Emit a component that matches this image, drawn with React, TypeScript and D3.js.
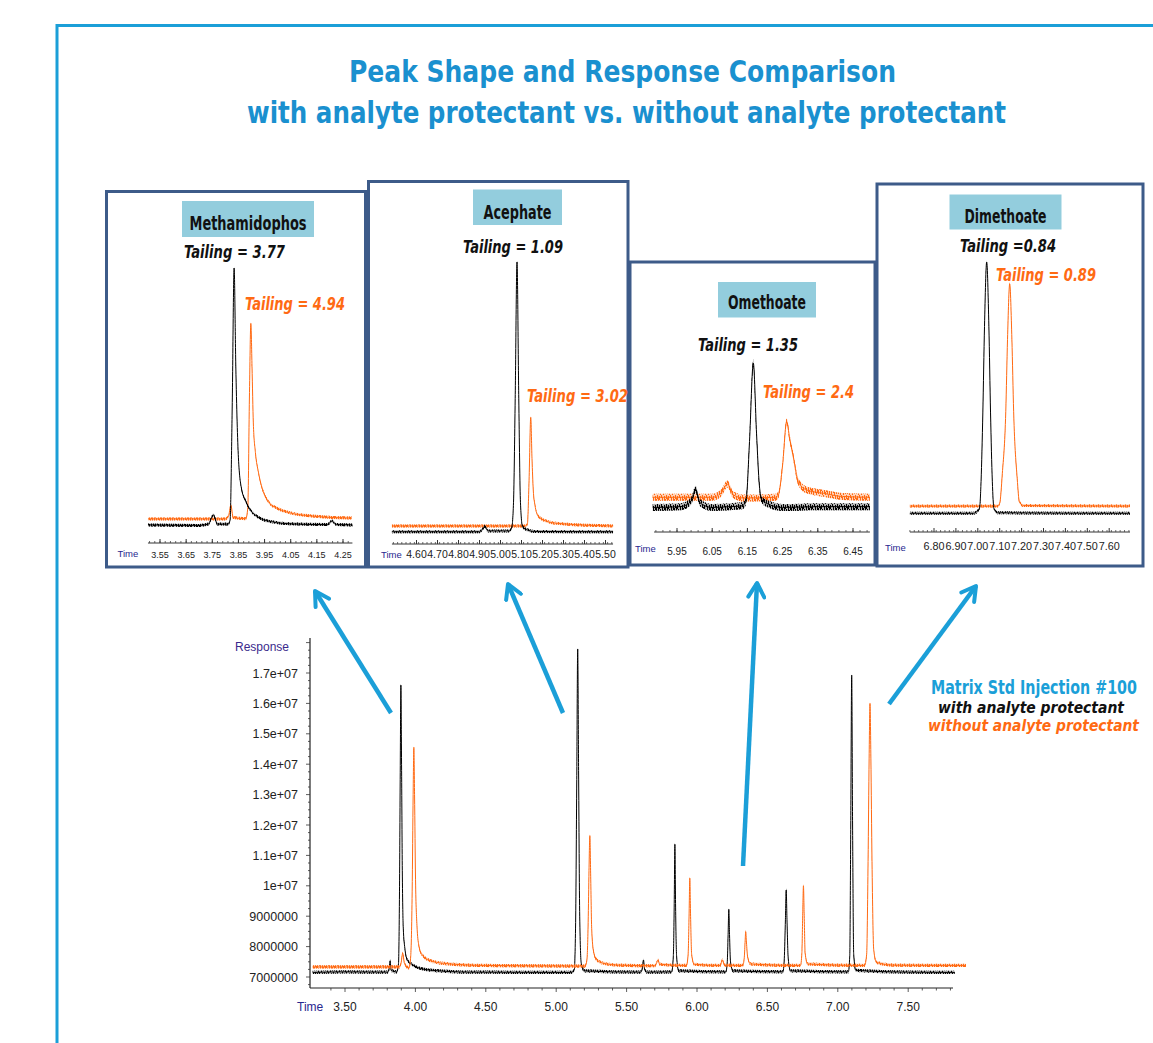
import React, { useLayoutEffect, useRef, useState } from 'react';
import * as d3 from 'd3';

type P = [number, number];

const W = 1153;
const H = 1043;
const ORANGE = '#ff6a13';
const BLUE = '#1b9fd8';
const TITLE_BLUE = '#1a90cf';
const BOX_BORDER = '#3d5b89';
const LABEL_BG = '#93cddd';
const NAVY = '#27278f';
const COND = "'Liberation Sans Narrow', 'DejaVu Sans Condensed', 'Roboto Condensed', 'Liberation Sans', Arial, sans-serif";
const SANS = "'Liberation Sans', Arial, sans-serif";

// ---------- Main chromatogram (time in min, response in counts) ----------
const mainWith: P[] = [
  [3.27, 7.15e6], [3.5, 7.17e6], [3.8, 7.16e6], [3.812, 7.22e6], [3.82, 7.53e6], [3.828, 7.22e6],
  [3.868, 7.17e6], [3.88, 7.45e6], [3.887, 9.8e6], [3.892, 1.35e7], [3.897, 1.66e7], [3.902, 1.38e7],
  [3.907, 1.05e7], [3.914, 8.6e6], [3.925, 7.95e6], [3.943, 7.56e6], [3.975, 7.42e6], [4.011, 7.32e6],
  [4.118, 7.22e6], [4.4, 7.16e6], [5.1, 7.15e6], [5.128, 7.22e6], [5.138, 8.8e6], [5.146, 1.35e7],
  [5.1527, 1.779e7], [5.159, 1.38e7], [5.167, 9.0e6], [5.178, 7.45e6], [5.2, 7.2e6], [5.6, 7.16e6],
  [5.612, 7.3e6], [5.62, 7.56e6], [5.628, 7.25e6], [5.645, 7.16e6], [5.82, 7.17e6], [5.832, 7.7e6],
  [5.838, 9.3e6], [5.843, 1.1365e7], [5.848, 9.3e6], [5.855, 7.7e6], [5.87, 7.2e6], [6.205, 7.17e6],
  [6.215, 7.5e6], [6.221, 8.4e6], [6.226, 9.227e6], [6.231, 8.4e6], [6.238, 7.5e6], [6.255, 7.2e6],
  [6.61, 7.17e6], [6.62, 7.6e6], [6.628, 8.9e6], [6.6335, 9.86e6], [6.639, 8.9e6], [6.648, 7.6e6],
  [6.665, 7.2e6], [7.075, 7.17e6], [7.085, 7.7e6], [7.092, 1.2e7], [7.0987, 1.693e7], [7.105, 1.2e7],
  [7.113, 7.75e6], [7.128, 7.22e6], [7.5, 7.16e6], [7.83, 7.15e6],
];

const mainWithout: P[] = [
  [3.27, 7.33e6], [3.6, 7.33e6], [3.885, 7.33e6], [3.898, 7.45e6], [3.91, 7.78e6], [3.922, 7.45e6],
  [3.955, 7.3e6], [3.967, 7.7e6], [3.977, 9.8e6], [3.984, 1.3e7], [3.989, 1.4556e7], [3.994, 1.3e7],
  [4.001, 1.02e7], [4.011, 8.7e6], [4.024, 8.05e6], [4.045, 7.75e6], [4.1, 7.55e6], [4.2, 7.45e6],
  [4.5, 7.38e6], [5.205, 7.36e6], [5.218, 7.55e6], [5.227, 8.8e6], [5.233, 1.05e7], [5.239, 1.165e7],
  [5.245, 1.03e7], [5.252, 8.6e6], [5.265, 7.85e6], [5.285, 7.58e6], [5.33, 7.46e6], [5.45, 7.39e6],
  [5.7, 7.37e6], [5.712, 7.45e6], [5.723, 7.56e6], [5.735, 7.42e6], [5.925, 7.38e6], [5.937, 7.75e6],
  [5.944, 9.1e6], [5.949, 1.025e7], [5.954, 9.1e6], [5.962, 7.75e6], [5.98, 7.42e6], [6.165, 7.38e6],
  [6.18, 7.56e6], [6.195, 7.39e6], [6.325, 7.38e6], [6.336, 7.65e6], [6.342, 8.2e6], [6.346, 8.49e6],
  [6.351, 8.15e6], [6.36, 7.65e6], [6.38, 7.43e6], [6.735, 7.38e6], [6.745, 7.8e6], [6.751, 9.1e6],
  [6.756, 1.0e7], [6.761, 9.1e6], [6.768, 7.8e6], [6.785, 7.43e6], [7.19, 7.38e6], [7.205, 7.75e6],
  [7.215, 1.08e7], [7.2225, 1.42e7], [7.2287, 1.6e7], [7.235, 1.42e7], [7.243, 1.08e7], [7.255, 7.9e6],
  [7.275, 7.48e6], [7.4, 7.39e6], [7.91, 7.38e6],
];

const mainYTicks = [7e6, 8e6, 9e6, 1e7, 1.1e7, 1.2e7, 1.3e7, 1.4e7, 1.5e7, 1.6e7, 1.7e7];
const mainYTickLabels = ['7000000', '8000000', '9000000', '1e+07', '1.1e+07', '1.2e+07', '1.3e+07', '1.4e+07', '1.5e+07', '1.6e+07', '1.7e+07'];
const mainXTicks = [3.5, 4.0, 4.5, 5.0, 5.5, 6.0, 6.5, 7.0, 7.5];
const mainXTickLabels = ['3.50', '4.00', '4.50', '5.00', '5.50', '6.00', '6.50', '7.00', '7.50'];

// ---------- Insets (time in min, relative response %) ----------
const insetNames = ['Methamidophos', 'Acephate', 'Omethoate', 'Dimethoate'];
const tailingWith = ['Tailing = 3.77', 'Tailing = 1.09', 'Tailing = 1.35', 'Tailing =0.84'];
const tailingWithout = ['Tailing = 4.94', 'Tailing = 3.02', 'Tailing = 2.4', 'Tailing = 0.89'];

const insetTicks1 = [3.55, 3.65, 3.75, 3.85, 3.95, 4.05, 4.15, 4.25];
const insetTicks2 = [4.6, 4.7, 4.8, 4.9, 5.0, 5.1, 5.2, 5.3, 5.4, 5.5];
const insetTicks3 = [5.95, 6.05, 6.15, 6.25, 6.35, 6.45];
const insetTicks4 = [6.8, 6.9, 7.0, 7.1, 7.2, 7.3, 7.4, 7.5, 7.6];

const methWith: P[] = [
  [3.504, 1.2], [3.7, 1.0], [3.735, 1.5], [3.754, 5], [3.77, 1.5], [3.81, 1.5], [3.818, 3],
  [3.826, 45], [3.8335, 100], [3.84, 62], [3.85, 27], [3.862, 15], [3.876, 10.8], [3.895, 7],
  [3.914, 5], [3.945, 3.2], [3.978, 2.4], [4.05, 1.6], [4.19, 1.3], [4.208, 2.7], [4.225, 1.3], [4.286, 1.2],
];
const methWithout: P[] = [
  [3.504, 3.5], [3.8, 3.5], [3.812, 4.5], [3.821, 8.8], [3.83, 4], [3.878, 3.6], [3.886, 8],
  [3.892, 50], [3.8975, 78.7], [3.902, 62], [3.907, 40.4], [3.915, 29], [3.927, 21.2], [3.945, 14],
  [3.965, 10.1], [4.0, 7.5], [4.029, 6.3], [4.131, 4.6], [4.284, 3.8],
];
const acepWith: P[] = [
  [4.483, 1.2], [4.9, 1.2], [4.915, 2.2], [4.926, 3.2], [4.94, 1.5], [5.04, 1.5], [5.053, 2.5],
  [5.062, 12], [5.07, 50], [5.0786, 100], [5.087, 50], [5.095, 12], [5.105, 3], [5.13, 1.8],
  [5.16, 1.3], [5.536, 1.2],
];
const acepWithout: P[] = [
  [4.483, 3.3], [5.12, 3.3], [5.128, 4], [5.136, 20], [5.144, 43.1], [5.15, 28], [5.156, 16.5],
  [5.164, 11], [5.172, 8.1], [5.188, 6.3], [5.204, 5.5], [5.268, 4.3], [5.536, 3.3],
];
const ometWith: P[] = [
  [5.881, 8], [5.96, 8.5], [5.99, 12], [6.003, 19.6], [6.015, 11], [6.05, 8], [6.1, 8.5],
  [6.135, 9], [6.146, 12], [6.156, 50], [6.1668, 100], [6.176, 55], [6.184, 22], [6.1906, 13],
  [6.21, 10], [6.25, 8], [6.35, 8.5], [6.498, 8.5],
];
const ometWithout: P[] = [
  [5.881, 14.5], [6.05, 14.5], [6.075, 17], [6.093, 22.9], [6.11, 16], [6.14, 14], [6.23, 14.5],
  [6.238, 16], [6.25, 35], [6.2616, 62.6], [6.27, 52], [6.2804, 40.3], [6.2946, 24.4],
  [6.3185, 19.1], [6.3656, 17], [6.42, 15], [6.498, 14.5],
];
const dimeWith: P[] = [
  [6.69, 2.6], [6.98, 2.6], [7.0076, 4.5], [7.0149, 15], [7.023, 41.5], [7.0306, 75], [7.0406, 100],
  [7.0506, 75], [7.0582, 41.5], [7.0663, 15], [7.0736, 4.5], [7.09, 2.8], [7.695, 2.6],
];
const dimeWithout: P[] = [
  [6.69, 5.4], [7.09, 5.4], [7.1, 6.5], [7.112, 18], [7.1277, 42], [7.1357, 70], [7.1457, 91.5],
  [7.1557, 70], [7.1637, 42], [7.18, 16], [7.19, 7], [7.21, 5.6], [7.695, 5.4],
];

const insetWith = [methWith, acepWith, ometWith, dimeWith];
const insetWithout = [methWithout, acepWithout, ometWithout, dimeWithout];
const insetTicks = [insetTicks1, insetTicks2, insetTicks3, insetTicks4];

// ---------- Layout (pixel positions only) ----------
const insetLayout = [
  {
    box: [106.5, 191.5, 365.5, 567], t: [3.55, 4.25], px: [160, 343], ruler: [3.504, 4.286], rulerY: 543,
    y0: 528, y100: 268, labBase: 558, tickFont: 9, timeX: 117.5, timeBase: 557,
    labelBox: [182, 201, 314, 237], nameBase: 229.5, nameLen: 117,
    w: [184, 257.5, 101], wo: [245, 310, 100], noise: 1.5,
  },
  {
    box: [368.5, 181.5, 628, 567], t: [4.6, 5.5], px: [416.5, 605.5], ruler: [4.483, 5.536], rulerY: 544,
    y0: 535, y100: 262, labBase: 558, tickFont: 10.5, timeX: 381, timeBase: 558,
    labelBox: [473, 189.5, 562, 225], nameBase: 218.5, nameLen: 68,
    w: [463, 253, 100], wo: [527, 402, 101], noise: 1.5,
  },
  {
    box: [630, 262, 875, 565], t: [5.95, 6.45], px: [677, 853], ruler: [5.885, 6.498], rulerY: 532,
    y0: 520, y100: 363, labBase: 555, tickFont: 10, timeX: 635, timeBase: 552,
    labelBox: [718, 282, 816, 317.5], nameBase: 308.5, nameLen: 78,
    w: [698, 351, 100], wo: [763, 398, 91], noise: 3.5,
  },
  {
    box: [877, 184, 1143, 566], t: [6.8, 7.6], px: [934, 1109.2], ruler: [6.69, 7.695], rulerY: 532,
    y0: 520, y100: 262, labBase: 550, tickFont: 10.8, timeX: 885, timeBase: 551,
    labelBox: [949.5, 194.5, 1061.5, 229.5], nameBase: 222.5, nameLen: 82,
    w: [960, 252, 96], wo: [996, 281, 100], noise: 1.5,
  },
];

const arrows = [
  [391, 713, 315, 591],
  [563, 713, 508, 584],
  [743, 866, 757, 583],
  [889, 704, 976, 586],
];

function FitText({ x, y, len, children, ...props }: any) {
  const ref = useRef<SVGTextElement>(null);
  const [sx, setSx] = useState(1);
  useLayoutEffect(() => {
    const el = ref.current;
    if (el) {
      const n = el.getComputedTextLength();
      if (n > 0) setSx(len / n);
    }
  }, [len]);
  return (
    <g transform={`translate(${x},${y}) scale(${sx},1)`}>
      <text ref={ref} x={0} y={0} {...props}>
        {children}
      </text>
    </g>
  );
}

function Trace({ pts, xs, ys, color, noise, sw, pat }: { pts: P[]; xs: any; ys: any; color: string; noise: number; sw: number; pat: string }) {
  const line = d3.line<P>().x((d) => xs(d[0])).y((d) => ys(d[1])).curve(d3.curveMonotoneX);
  const area = d3
    .area<P>()
    .x((d) => xs(d[0]))
    .y0((d) => ys(d[1]) - noise)
    .y1((d) => ys(d[1]) + noise)
    .curve(d3.curveMonotoneX);
  return (
    <g>
      <path d={area(pts) || ''} fill={color} opacity={0.3} />
      <path d={area(pts) || ''} fill={`url(#${pat})`} />
      <path d={line(pts) || ''} fill="none" stroke={color} strokeWidth={sw} strokeLinejoin="round" />
    </g>
  );
}

function Inset({ i }: { i: number }) {
  const L = insetLayout[i];
  const xs = d3.scaleLinear().domain(L.t).range(L.px);
  const ys = d3.scaleLinear().domain([0, 100]).range([L.y0, L.y100]);
  const [bx0, by0, bx1, by1] = L.box;
  const [lx0, ly0, lx1, ly1] = L.labelBox;
  const minorStep = 0.02;
  const ticks = d3.range(Math.ceil(L.ruler[0] / 0.01) * 0.01, L.ruler[1], minorStep);
  const x0 = xs(L.ruler[0]);
  const x1 = xs(L.ruler[1]);
  return (
    <g>
      <rect x={bx0} y={by0} width={bx1 - bx0} height={by1 - by0} fill="#fff" stroke={BOX_BORDER} strokeWidth={3} />
      <rect x={lx0} y={ly0} width={lx1 - lx0} height={ly1 - ly0} fill={LABEL_BG} />
      <text
        x={(lx0 + lx1) / 2}
        y={L.nameBase}
        textAnchor="middle"
        fontFamily={COND}
        fontWeight="bold"
        fontSize={19}
        fill="#111"
        textLength={L.nameLen}
        lengthAdjust="spacingAndGlyphs"
      >
        {insetNames[i]}
      </text>
      <text x={L.w[0]} y={L.w[1]} fontFamily={COND} fontWeight="bold" fontStyle="italic" fontSize={18} fill="#111" textLength={L.w[2]} lengthAdjust="spacingAndGlyphs">
        {tailingWith[i]}
      </text>
      <text x={L.wo[0]} y={L.wo[1]} fontFamily={COND} fontWeight="bold" fontStyle="italic" fontSize={18} fill={ORANGE} textLength={L.wo[2]} lengthAdjust="spacingAndGlyphs">
        {tailingWithout[i]}
      </text>
      <Trace pts={insetWithout[i]} xs={xs} ys={ys} color={ORANGE} noise={L.noise} sw={1} pat="noiseO" />
      <Trace pts={insetWith[i]} xs={xs} ys={ys} color="#000" noise={L.noise} sw={1} pat="noiseK" />
      {/* ruler */}
      <line x1={x0} x2={x1} y1={L.rulerY} y2={L.rulerY} stroke="#333" strokeWidth={1} />
      {ticks.map((t, k) => (
        <line key={k} x1={xs(t)} x2={xs(t)} y1={L.rulerY} y2={L.rulerY - 2} stroke="#444" strokeWidth={0.8} />
      ))}
      {insetTicks[i].map((t) => (
        <line key={'m' + t} x1={xs(t)} x2={xs(t)} y1={L.rulerY} y2={L.rulerY - 4} stroke="#333" strokeWidth={1} />
      ))}
      <text x={L.timeX} y={L.timeBase} fontFamily={SANS} fontSize={9.5} fill={NAVY}>
        Time
      </text>
      {insetTicks[i].map((t) => (
        <text key={'l' + t} x={xs(t)} y={L.labBase} textAnchor="middle" fontFamily={SANS} fontSize={L.tickFont} fill="#222">
          {t.toFixed(2)}
        </text>
      ))}
    </g>
  );
}

function NoisePattern({ id, color }: { id: string; color: string }) {
  // irregular short vertical strokes: a texture that reads as detector noise
  const strokes: [number, number, number][] = [
    [0.5, 0, 4], [1.5, 3, 8], [2.5, 1, 5], [3.5, 5, 9], [4.5, 0, 3], [5.5, 2, 7], [6.5, 6, 9], [7.5, 1, 6], [8.5, 4, 8],
  ];
  return (
    <pattern id={id} width={9} height={9} patternUnits="userSpaceOnUse">
      {strokes.map(([x, a, b], k) => (
        <line key={k} x1={x} x2={x} y1={a} y2={b} stroke={color} strokeWidth={1} />
      ))}
    </pattern>
  );
}

export default function App() {
  const xMain = d3.scaleLinear().domain([3.5, 7.5]).range([345, 908.2]);
  const yMain = d3.scaleLinear().domain([7e6, 1.7e7]).range([977, 673]);
  const axisX = 310;
  const axisY = 988;
  const xMinor = d3.range(3.4, 7.85, 0.1);
  const yMinor = d3.range(6.75e6, 1.82e7, 0.25e6);

  return (
    <svg width={W} height={H} style={{ position: 'absolute', left: 0, top: 0, display: 'block', background: '#fff' }}>
      <defs>
        <marker id="ah" viewBox="0 0 20 20" refX="17" refY="10" markerWidth="20" markerHeight="20" markerUnits="userSpaceOnUse" orient="auto">
          <path d="M3,2 L17,10 L3,18" fill="none" stroke={BLUE} strokeWidth="4" strokeLinecap="round" strokeLinejoin="round" />
        </marker>
        <NoisePattern id="noiseK" color="#000" />
        <NoisePattern id="noiseO" color={ORANGE} />
      </defs>
      <rect x={0} y={0} width={W} height={H} fill="#fff" />
      {/* frame */}
      <path d={`M57,${H} L57,25.5 L${W},25.5`} fill="none" stroke={BLUE} strokeWidth={3} />
      {/* title */}
      <text x={622.5} y={82} textAnchor="middle" fontFamily={COND} fontWeight="bold" fontSize={31} fill={TITLE_BLUE} textLength={547} lengthAdjust="spacingAndGlyphs">
        Peak Shape and Response Comparison
      </text>
      <text x={626.5} y={123} textAnchor="middle" fontFamily={COND} fontWeight="bold" fontSize={31} fill={TITLE_BLUE} textLength={759} lengthAdjust="spacingAndGlyphs">
        with analyte protectant vs. without analyte protectant
      </text>

      {[0, 1, 2, 3].map((i) => (
        <Inset key={i} i={i} />
      ))}

      {/* main chart axes */}
      <line x1={axisX} x2={axisX} y1={638} y2={axisY} stroke="#222" strokeWidth={1.2} />
      <line x1={axisX} x2={953} y1={axisY} y2={axisY} stroke="#222" strokeWidth={1.2} />
      {yMinor.map((v, k) => {
        const major = Math.abs(v / 1e6 - Math.round(v / 1e6)) < 1e-6;
        return <line key={'yt' + k} x1={axisX - (major ? 4 : 2)} x2={axisX} y1={yMain(v)} y2={yMain(v)} stroke="#333" strokeWidth={0.8} />;
      })}
      {xMinor.map((t, k) => {
        const major = mainXTicks.some((m) => Math.abs(m - t) < 1e-6);
        return <line key={'xt' + k} x1={xMain(t)} x2={xMain(t)} y1={axisY} y2={axisY + (major ? 4 : 2.5)} stroke="#333" strokeWidth={0.8} />;
      })}
      {mainYTicks.map((v, k) => (
        <text key={'yl' + k} x={298} y={yMain(v) + 4.5} textAnchor="end" fontFamily={SANS} fontSize={12.5} fill="#222">
          {mainYTickLabels[k]}
        </text>
      ))}
      {mainXTicks.map((t, k) => (
        <text key={'xl' + k} x={xMain(t)} y={1011} textAnchor="middle" fontFamily={SANS} fontSize={12} fill="#222">
          {mainXTickLabels[k]}
        </text>
      ))}
      <text x={297} y={1011} fontFamily={SANS} fontSize={12} fill={NAVY}>
        Time
      </text>
      <text x={235} y={650.5} fontFamily={SANS} fontSize={12} fill="#3a2a8c">
        Response
      </text>

      <Trace pts={mainWith} xs={xMain} ys={yMain} color="#000" noise={1.6} sw={1} pat="noiseK" />
      <Trace pts={mainWithout} xs={xMain} ys={yMain} color={ORANGE} noise={1.6} sw={1} pat="noiseO" />

      {/* arrows */}
      {arrows.map(([x1, y1, x2, y2], k) => (
        <line key={'a' + k} x1={x1} y1={y1} x2={x2} y2={y2} stroke={BLUE} strokeWidth={4.5} markerEnd="url(#ah)" />
      ))}

      {/* legend */}
      <FitText x={931} y={693.5} len={206} fontFamily={COND} fontWeight="bold" fontSize={20} fill={BLUE}>
        Matrix Std Injection #100
      </FitText>
      <text x={1124} y={713} textAnchor="end" fontFamily={COND} fontWeight="bold" fontStyle="italic" fontSize={16.5} fill="#111" textLength={186} lengthAdjust="spacingAndGlyphs">
        with analyte protectant
      </text>
      <text x={1139} y={731} textAnchor="end" fontFamily={COND} fontWeight="bold" fontStyle="italic" fontSize={16.5} fill={ORANGE} textLength={211} lengthAdjust="spacingAndGlyphs">
        without analyte protectant
      </text>
    </svg>
  );
}
